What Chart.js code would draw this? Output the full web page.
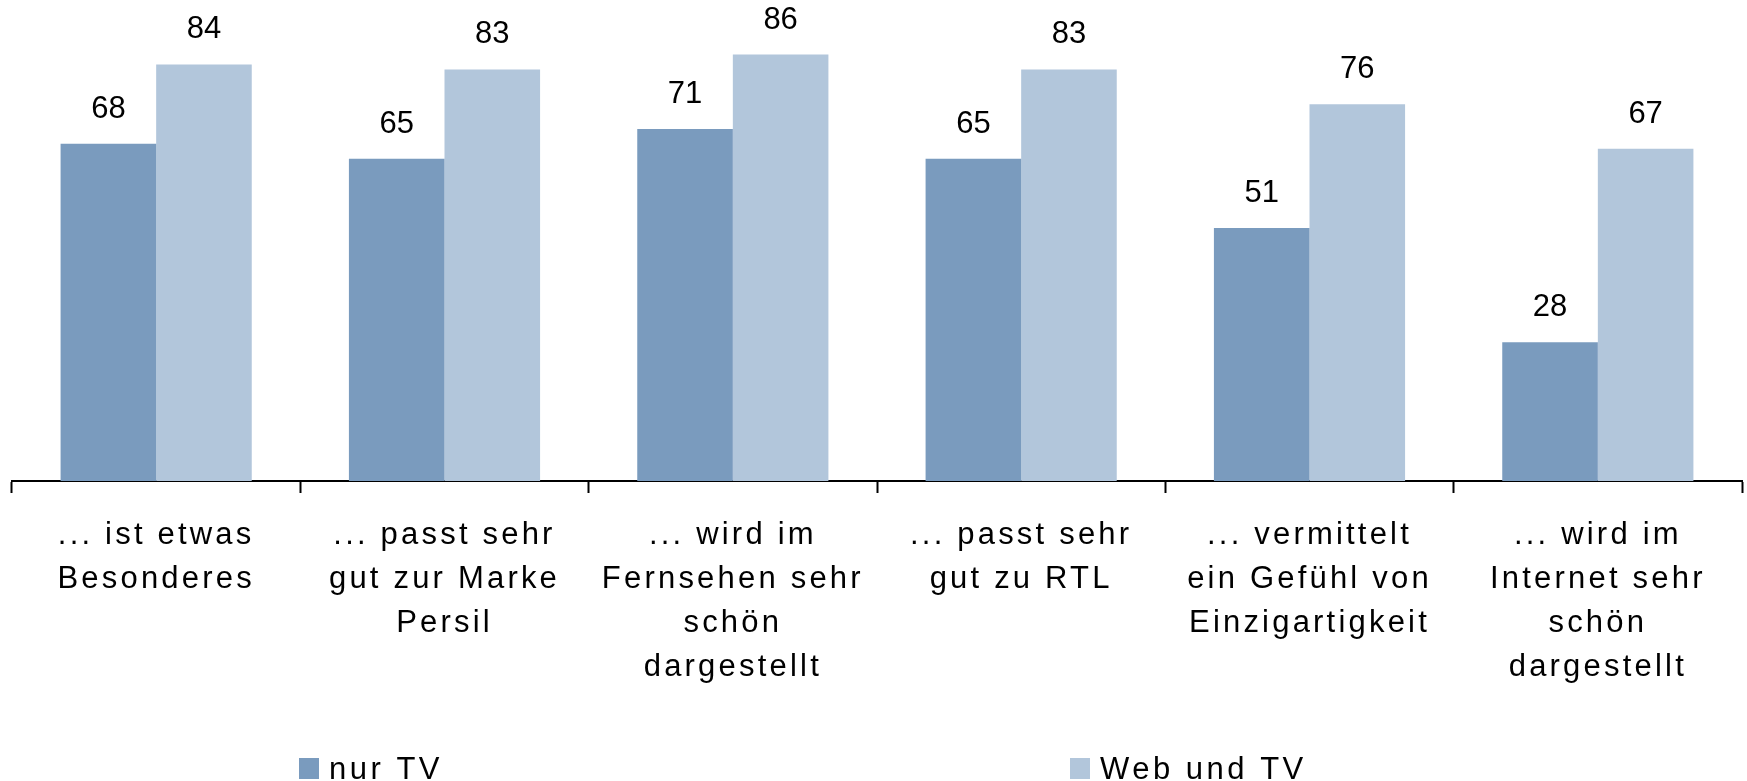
<!DOCTYPE html>
<html>
<head>
<meta charset="utf-8">
<script src="https://cdn.jsdelivr.net/npm/chart.js@4.4.1/dist/chart.umd.min.js"></script>
<style>
  html, body { margin: 0; padding: 0; background: #fff; }
  #wrap { width: 1747px; height: 781px; position: relative; }
</style>
</head>
<body>
<div id="wrap"><canvas id="barChart"></canvas></div>
<script>
// categories (multi-line tick labels)
const categories = [
  ['... ist etwas', 'Besonderes'],
  ['... passt sehr', 'gut zur Marke', 'Persil'],
  ['... wird im', 'Fernsehen sehr', 'schön', 'dargestellt'],
  ['... passt sehr', 'gut zu RTL'],
  ['... vermittelt', 'ein Gefühl von', 'Einzigartigkeit'],
  ['... wird im', 'Internet sehr', 'schön', 'dargestellt']
]
const nurTV = [68, 65, 71, 65, 51, 28]
const webUndTV = [84, 83, 86, 83, 76, 67]
const seriesNames = ['nur TV', 'Web und TV']
const seriesColors = ['#7a9bbe', '#b2c6db']

const fontFamily = '"Liberation Sans", Arial, sans-serif'

// spaced-out text like the original (axis labels)
const letterSpacingPlugin = {
  id: 'letterSpacing',
  beforeDraw(chart) {
    chart.ctx.letterSpacing = '3.2px'
  }
}

// numbers above each bar
const valueLabels = {
  id: 'valueLabels',
  afterDatasetsDraw(chart) {
    const ctx = chart.ctx
    ctx.save()
    ctx.letterSpacing = '0px'
    ctx.font = '31px ' + fontFamily
    ctx.fillStyle = '#000'
    ctx.textAlign = 'center'
    ctx.textBaseline = 'alphabetic'
    chart.data.datasets.forEach((ds, i) => {
      chart.getDatasetMeta(i).data.forEach((bar, j) => {
        ctx.fillText(ds.data[j], bar.x, bar.y - 26)
      })
    })
    ctx.restore()
  }
}

// legend drawn by hand, items are far apart in the original
const legendBoxes = {
  id: 'legendBoxes',
  afterDraw(chart) {
    const ctx = chart.ctx
    const xs = [299, 1070]
    ctx.save()
    ctx.letterSpacing = '3.5px'
    ctx.font = '31px ' + fontFamily
    ctx.textAlign = 'left'
    ctx.textBaseline = 'alphabetic'
    chart.data.datasets.forEach((ds, i) => {
      ctx.fillStyle = ds.backgroundColor
      ctx.fillRect(xs[i], 758, 20, 21)
      ctx.fillStyle = '#000'
      ctx.fillText(ds.label, xs[i] + 30, 779)
    })
    ctx.restore()
  }
}

const ctx = document.getElementById('barChart')
const chart = new Chart(ctx, {
  type: 'bar',
  data: {
    labels: categories,
    datasets: [{
      label: seriesNames[0],
      data: nurTV,
      backgroundColor: seriesColors[0]
    }, {
      label: seriesNames[1],
      data: webUndTV,
      backgroundColor: seriesColors[1]
    }]
  },
  options: {
    responsive: true,
    maintainAspectRatio: false,
    animation: false,
    datasets: {
      bar: { categoryPercentage: 0.663, barPercentage: 1.0 }
    },
    layout: {
      padding: { left: 12, right: 5, top: 0, bottom: 72 }
    },
    plugins: {
      legend: { display: false },
      tooltip: { enabled: false }
    },
    scales: {
      x: {
        grid: {
          offset: true,
          drawOnChartArea: false,
          drawTicks: true,
          tickLength: 12,
          tickWidth: 2,
          tickColor: '#000'
        },
        border: { display: true, color: '#000', width: 2 },
        ticks: {
          color: '#000',
          padding: 20,
          autoSkip: false,
          maxRotation: 0,
          font: { family: fontFamily, size: 31, lineHeight: 44 / 31 }
        }
      },
      y: {
        display: false,
        min: 0,
        max: 97
      }
    }
  },
  plugins: [letterSpacingPlugin, valueLabels, legendBoxes]
})
</script>
</body>
</html>
